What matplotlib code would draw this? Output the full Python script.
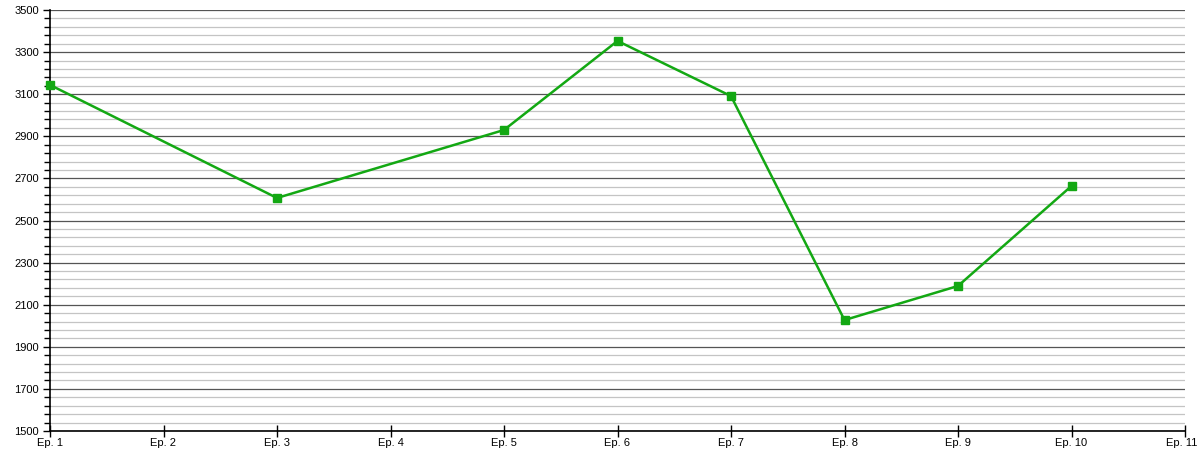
import matplotlib
matplotlib.use("Agg")
import matplotlib.pyplot as plt
import matplotlib.transforms as mtransforms
import numpy as np

categories = ["Ep. 1", "Ep. 2", "Ep. 3", "Ep. 4", "Ep. 5", "Ep. 6", "Ep. 7", "Ep. 8", "Ep. 9", "Ep. 10", "Ep. 11"]
values = [3144, None, 2607, None, 2930, 3353, 3091, 2027, 2189, 2664, None]
y_major = list(range(1500, 3501, 200))
y_minor = [v for v in range(1500, 3501, 40) if (v - 1500) % 200 != 0]

plt.rcParams['font.family'] = ['Liberation Sans', 'DejaVu Sans']

fig = plt.figure(figsize=(12, 4.5), dpi=100)
ax = fig.add_axes([50/1200, 19/450, (1185-50)/1200, (431-10)/450])

xs = [i for i, v in enumerate(values) if v is not None]
ys = [v for v in values if v is not None]
ax.plot(xs, ys, color="#13a813", lw=1.8, marker="s", markersize=5.5,
        markeredgecolor="#13a813", markerfacecolor="#13a813", zorder=3,
        clip_on=False)

ax.set_xlim(0, len(categories) - 1)
ax.set_ylim(1500, 3500)
ax.set_xticks(range(len(categories)))
ax.set_xticklabels(categories)
ax.set_yticks(y_major)
ax.set_yticks(y_minor, minor=True)

ax.grid(which="major", axis="y", color="#555555", lw=0.9)
ax.grid(which="minor", axis="y", color="#c4c4c4", lw=0.9)
ax.set_axisbelow(True)

for s in ["top", "right"]:
    ax.spines[s].set_visible(False)
for s in ["left", "bottom"]:
    ax.spines[s].set_color("black")
    ax.spines[s].set_linewidth(1.2)

ax.tick_params(axis="y", which="major", length=5, width=1, labelsize=8, pad=3)
ax.tick_params(axis="y", which="minor", length=4, width=1)
ax.tick_params(axis="x", which="major", direction="inout", length=8, width=1, labelsize=8, pad=1)

last = ax.get_xticklabels()[-1]
last.set_horizontalalignment("right")
last.set_transform(last.get_transform() + mtransforms.ScaledTranslation(12/100, 0, fig.dpi_scale_trans))

fig.savefig("out.png", dpi=100)
